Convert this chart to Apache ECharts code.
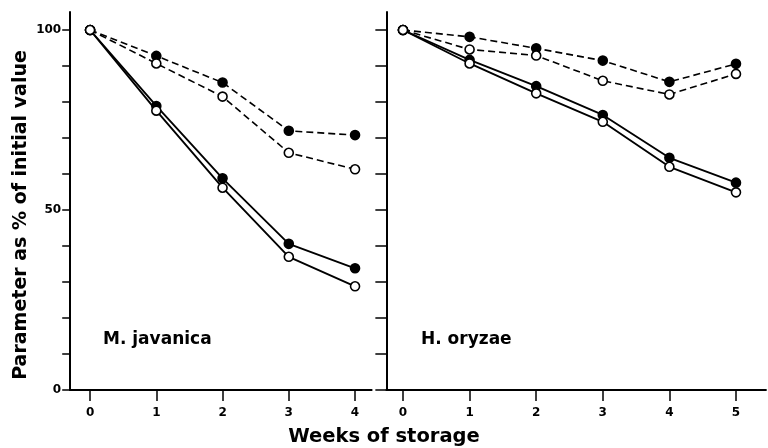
<!DOCTYPE html>
<html><head><meta charset="utf-8">
<script src="https://cdn.jsdelivr.net/npm/echarts@6/dist/echarts.min.js"></script>
<style>html,body{margin:0;padding:0;background:#fff}#c{width:768px;height:448px}</style>
</head><body><div id="c"></div>
<script>
// ---- data ----
const weeksJavanica = [0, 1, 2, 3, 4];
const weeksOryzae = [0, 1, 2, 3, 4, 5];
const javDashedFilled = [100, 92.8, 85.4, 72.0, 70.8];
const javDashedOpen   = [100, 90.7, 81.5, 65.9, 61.3];
const javSolidFilled  = [100, 78.9, 58.8, 40.6, 33.8];
const javSolidOpen    = [100, 77.6, 56.2, 37.0, 28.8];
const oryDashedFilled = [100, 98.1, 94.9, 91.5, 85.6, 90.6];
const oryDashedOpen   = [100, 94.6, 92.9, 85.9, 82.1, 87.8];
const orySolidFilled  = [100, 91.7, 84.4, 76.4, 64.5, 57.6];
const orySolidOpen    = [100, 90.7, 82.4, 74.5, 62.0, 54.9];
const yTicks = [0, 10, 20, 30, 40, 50, 60, 70, 80, 90, 100];
const yLabels = [0, 50, 100];
const panelLabels = ['M. javanica', 'H. oryzae'];
const xTitle = 'Weeks of storage';
const yTitle = 'Parameter as % of initial value';

const FONT = 'DejaVu Sans';
const pairs = (xs, ys) => xs.map((x, i) => [x, ys[i]]);

function mkSeries(idx, xs, ys, dashed, filled) {
  return {
    type: 'line', xAxisIndex: idx, yAxisIndex: idx,
    data: pairs(xs, ys),
    symbol: 'circle', symbolSize: 9, showSymbol: true,
    lineStyle: { color: '#000', width: dashed ? 1.6 : 1.9, type: dashed ? [7, 4] : 'solid' },
    itemStyle: { color: filled ? '#000' : '#fff', borderColor: '#000', borderWidth: 1.6 },
    animation: false, silent: true, z: filled ? 2 : 3
  };
}

function xAx(idx, min, max, vals) {
  return {
    type: 'value', gridIndex: idx, min: min, max: max,
    axisLine: { onZero: false, lineStyle: { color: '#000', width: 2 } },
    axisTick: { show: true, inside: false, length: 11, customValues: vals, lineStyle: { color: '#000', width: 1.5 } },
    axisLabel: { customValues: vals, margin: 17, color: '#000', fontFamily: FONT, fontWeight: 'bold', fontSize: 12 },
    splitLine: { show: false }
  };
}
function yAx(idx, showLabels, tickLen) {
  return {
    type: 'value', gridIndex: idx, min: 0, max: 105,
    axisLine: { show: true, onZero: false, lineStyle: { color: '#000', width: 2 } },
    axisTick: { show: true, inside: false, length: tickLen, customValues: yTicks, lineStyle: { color: '#000', width: 1.5 } },
    axisLabel: { show: showLabels, customValues: yLabels, margin: 9, color: '#000', fontFamily: FONT, fontWeight: 'bold', fontSize: 12 },
    splitLine: { show: false }
  };
}

const chart = echarts.init(document.getElementById('c'), null, { renderer: 'canvas' });
chart.setOption({
  backgroundColor: '#fff',
  animation: false,
  grid: [
    { left: 70.2, top: 12, width: 301.4, height: 378 },
    { left: 386.35, top: 12, width: 379.6, height: 378 }
  ],
  xAxis: [xAx(0, -0.3, 4.25, weeksJavanica), xAx(1, -0.25, 5.45, weeksOryzae)],
  yAxis: [yAx(0, true, 8), yAx(1, false, 11)],
  series: [
    mkSeries(0, weeksJavanica, javDashedFilled, true, true),
    mkSeries(0, weeksJavanica, javSolidFilled, false, true),
    mkSeries(0, weeksJavanica, javDashedOpen, true, false),
    mkSeries(0, weeksJavanica, javSolidOpen, false, false),
    mkSeries(1, weeksOryzae, oryDashedFilled, true, true),
    mkSeries(1, weeksOryzae, orySolidFilled, false, true),
    mkSeries(1, weeksOryzae, oryDashedOpen, true, false),
    mkSeries(1, weeksOryzae, orySolidOpen, false, false)
  ],
  graphic: [
    { type: 'text', left: 103, top: 331, style: { text: panelLabels[0], font: 'bold 17px "DejaVu Sans"', fill: '#000' } },
    { type: 'text', left: 421, top: 331, style: { text: panelLabels[1], font: 'bold 17px "DejaVu Sans"', fill: '#000' } },
    { type: 'text', x: 384, y: 437, style: { text: xTitle, font: 'bold 19.5px "DejaVu Sans"', fill: '#000', align: 'center', verticalAlign: 'middle' } },
    { type: 'text', x: 21, y: 215, rotation: Math.PI / 2, style: { text: yTitle, font: 'bold 19px "DejaVu Sans"', fill: '#000', align: 'center', verticalAlign: 'middle' } }
  ]
});
</script></body></html>
